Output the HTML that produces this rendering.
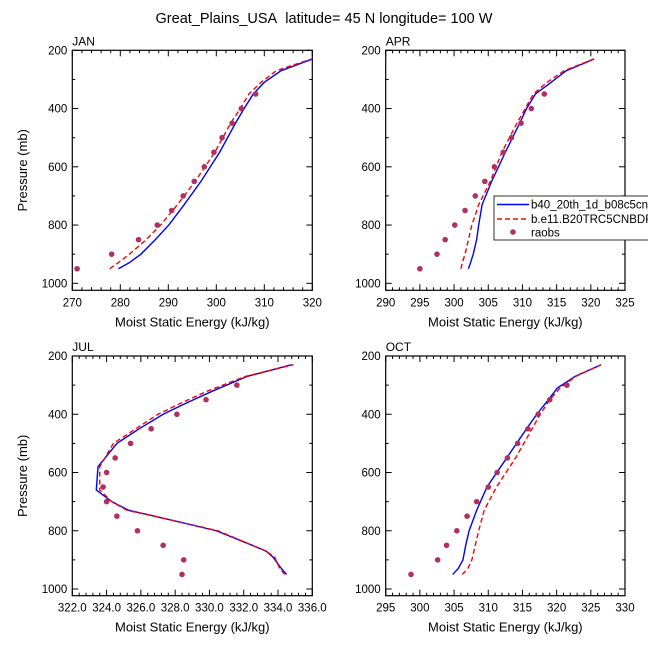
<!DOCTYPE html>
<html><head><meta charset="utf-8">
<style>
html,body{margin:0;padding:0;background:#fff;}
svg{display:block;font-family:"Liberation Sans",Arial,sans-serif;}
</style></head>
<body>
<svg id="chart" width="648" height="649" viewBox="0 0 648 649" xmlns="http://www.w3.org/2000/svg">
<rect width="648" height="649" fill="#fff"/>
<text x="324" y="23" text-anchor="middle" font-size="14.5">Great_Plains_USA&#160; latitude= 45 N longitude= 100 W</text>
</svg>
<script>
// Shared pressure levels
const levelsModel = [950,930,900,850,800,730,650,550,450,400,350,310,270,230];
const levelsJul = [950,930,890,870,850,800,750,730,700,660,580,500,450,400,360,320,270,230];
const levelsObs = [950,900,850,800,750,700,650,600,550,500,450,400,350,300];

// JAN
const janModel1 = [279.6,281.8,284.3,287.3,290.1,293.3,296.8,300.7,304.0,305.8,307.7,310.0,313.5,320.0];
const janModel2 = [277.8,279.5,281.9,285.4,288.4,291.9,295.6,299.7,303.0,305.0,306.8,309.3,312.5,319.8];
const janObs = [271.0,278.2,283.8,287.7,290.7,293.1,295.4,297.5,299.5,301.2,303.3,305.2,308.2,null];
// APR
const aprModel1 = [302.1,302.4,302.8,303.3,303.6,304.1,305.5,307.5,309.6,310.6,311.9,314.2,316.4,320.5];
const aprModel2 = [301.0,301.2,301.6,302.1,302.6,303.6,305.3,307.0,309.2,310.4,311.6,313.6,316.1,320.4];
const aprObs = [295.0,297.5,298.7,300.1,301.6,303.1,304.5,305.9,307.2,308.4,309.8,311.3,313.2,null];
// JUL
const julModel1 = [334.5,334.2,333.7,333.3,332.5,330.4,326.8,325.3,324.3,323.4,323.5,324.6,325.9,327.3,328.7,330.2,332.2,334.8];
const julModel2 = [334.4,334.1,333.8,333.3,332.5,330.5,326.8,325.2,324.3,323.6,323.6,324.4,325.7,327.0,328.4,329.9,332.1,334.9];
const julObs = [328.4,328.5,327.3,325.8,324.6,324.0,323.8,324.0,324.5,325.4,326.6,328.1,329.8,331.6];
// OCT
const octModel1 = [304.8,305.6,306.3,306.7,307.2,308.3,309.8,312.7,315.6,317.1,318.8,320.1,322.7,326.5];
const octModel2 = [306.2,307.0,307.6,308.1,308.6,309.4,311.2,314.0,316.4,317.6,319.0,320.5,322.8,326.5];
const octObs = [298.7,302.6,303.9,305.4,306.9,308.3,310.0,311.3,312.8,314.3,315.8,317.3,319.0,321.5];

const yTicks = [200,400,600,800,1000];
const janXTicks = [270,280,290,300,310,320];
const aprXTicks = [290,295,300,305,310,315,320,325];
const julXTicks = [322,324,326,328,330,332,334,336];
const octXTicks = [295,300,305,310,315,320,325,330];
const legendLabels = ["b40_20th_1d_b08c5cn_138j","b.e11.B20TRC5CNBDRD","raobs"];

const NS = "http://www.w3.org/2000/svg";
const svg = document.getElementById('chart');
function mk(tag, attrs, parent){
  const e = document.createElementNS(NS, tag);
  for (const k in attrs) e.setAttribute(k, attrs[k]);
  (parent||svg).appendChild(e);
  return e;
}

function panel(cfg){
  const g = mk('g', {});
  
  
  const L=cfg.left, R=cfg.right, T=cfg.top, B=cfg.bottom;
  const x = v => L + (v - cfg.xmin) / (cfg.xmax - cfg.xmin) * (R - L);
  const y = p => T + (p - 200) / 800 * (cfg.y1000 - T);
  const tg = mk('g', {stroke:'#000','stroke-width':'1'}, g);
  const xm = cfg.minor;
  const nMinor = Math.round((cfg.xmax - cfg.xmin)/xm);
  for (let i=0;i<=nMinor;i++){
    const v = cfg.xmin + i*xm, px = x(v);
    const major = cfg.xticks.some(t => Math.abs(t - v) < 1e-6);
    const len = major ? 6 : 3;
    mk('line',{x1:px,x2:px,y1:B,y2:B-len},tg);
    mk('line',{x1:px,x2:px,y1:T,y2:T+len},tg);
  }
  for (let p=200;p<=1000;p+=100){
    const py=y(p), major = p%200===0, len = major?6:3;
    mk('line',{x1:L,x2:L+len,y1:py,y2:py},tg);
    mk('line',{x1:R,x2:R-len,y1:py,y2:py},tg);
  }
  const box = mk('rect',{x:L,y:T,width:R-L,height:B-T,fill:'none',stroke:'#000','stroke-width':'1.2'},g);
  
  
  cfg.xticks.forEach(t=>{
    const tx = mk('text',{x:x(t),y:B+16,'text-anchor':'middle','font-size':'11.5'},g);
    tx.textContent = cfg.fmt(t);
    
    
  });
  yTicks.forEach(t=>{
    const tx = mk('text',{x:L-5,y:y(t)+4,'text-anchor':'end','font-size':'11.5'},g);
    tx.textContent = t;
    
    
  });
  const nm = mk('text',{x:L,y:T-5,'font-size':'12'},g);
  nm.textContent = cfg.name;
  
  
  const xt = mk('text',{x:(L+R)/2,y:B+36,'text-anchor':'middle','font-size':'13'},g);
  xt.textContent = 'Moist Static Energy (kJ/kg)';
  
  
  if (cfg.ytitle){
    const cy=(T+B)/2;
    const yt = mk('text',{x:27,y:cy,'text-anchor':'middle','font-size':'13',transform:'rotate(-90 27 '+cy+')'},g);
    yt.textContent = 'Pressure (mb)';
    
    
  }
  const lev = cfg.levels || levelsModel;
  const pts = arr => arr.map((v,i)=>x(v)+','+y(lev[i])).join(' ');
  const l1 = mk('polyline',{points:pts(cfg.m1),fill:'none',stroke:'#0000ff','stroke-width':'1.4'},g);
  
  
  const l2 = mk('polyline',{points:pts(cfg.m2),fill:'none',stroke:'#ff0000','stroke-width':'1.4','stroke-dasharray':'5,3'},g);
  
  
  cfg.obs.forEach((v,i)=>{
    if (v===null) return;
    const c = mk('circle',{cx:x(v),cy:y(levelsObs[i]),r:2.8,fill:'#b03060'},g);
    
    
  });
}

const f0 = t=>String(t), f1 = t=>t.toFixed(1);
panel({name:'JAN',left:72.3,right:312.3,top:50.3,bottom:290.3,y1000:283.3,xmin:270,xmax:320,minor:2,xticks:janXTicks,fmt:f0,m1:janModel1,m2:janModel2,obs:janObs,ytitle:true});
panel({name:'APR',left:385.7,right:625,top:50.3,bottom:290.3,y1000:283.3,xmin:290,xmax:325,minor:1,xticks:aprXTicks,fmt:f0,m1:aprModel1,m2:aprModel2,obs:aprObs});
panel({name:'JUL',left:72.3,right:312.3,top:356,bottom:595.7,y1000:589,xmin:322,xmax:336,minor:0.4,xticks:julXTicks,fmt:f1,m1:julModel1,m2:julModel2,obs:julObs,ytitle:true,levels:levelsJul});
panel({name:'OCT',left:385.7,right:625,top:356,bottom:595.7,y1000:589,xmin:295,xmax:330,minor:1,xticks:octXTicks,fmt:f0,m1:octModel1,m2:octModel2,obs:octObs});

const lg = mk('g',{});


mk('rect',{x:494,y:196,width:160,height:44,fill:'#fff',stroke:'#000','stroke-width':'0.8'},lg);
const e1 = mk('line',{x1:497,x2:529,y1:204.5,y2:204.5,stroke:'#0000ff','stroke-width':'1.4'},lg);


const e2 = mk('line',{x1:497,x2:529,y1:219,y2:219,stroke:'#ff0000','stroke-width':'1.4','stroke-dasharray':'5,3'},lg);


const e3 = mk('circle',{cx:513,cy:232,r:2.8,fill:'#b03060'},lg);


[208.5,223,236.5].forEach((yy,i)=>{
  const t = mk('text',{x:531,y:yy,'font-size':'11.5'},lg);
  t.textContent = legendLabels[i];
  
  
});
</script>
</body></html>
